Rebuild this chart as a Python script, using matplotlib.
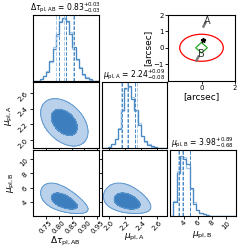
import numpy as np
import matplotlib
matplotlib.use("Agg")
import matplotlib.pyplot as plt
from matplotlib.patches import Ellipse, Polygon

# ---------------- data ----------------
tau_range = [0.70, 0.955]
muA_range = [1.90, 2.73]
muB_range = [2.10, 11.3]

tau_counts_dark = [0, 0, 0.03, 0.07, 0.14, 0.31, 0.50, 0.74, 0.93, 1.00,
                   0.96, 0.74, 0.53, 0.34, 0.20, 0.10, 0.04, 0.02, 0, 0]
tau_counts_light = [0, 0, 0.02, 0.08, 0.16, 0.30, 0.53, 0.72, 0.95, 0.98,
                    0.93, 0.77, 0.50, 0.33, 0.21, 0.09, 0.05, 0.01, 0, 0]
muA_counts_dark = [0, 0, 0.02, 0.07, 0.14, 0.30, 0.62, 0.97, 1.00, 0.80,
                   0.62, 0.38, 0.19, 0.11, 0.05, 0.03, 0.01, 0, 0, 0]
muA_counts_light = [0, 0, 0.01, 0.06, 0.15, 0.33, 0.60, 0.95, 0.98, 0.82,
                    0.60, 0.40, 0.20, 0.10, 0.06, 0.02, 0.01, 0, 0, 0]
muB_counts_dark = [0, 0.22, 0.71, 1.00, 0.95, 0.86, 0.47, 0.20, 0.085, 0.05,
                   0.03, 0.015, 0, 0, 0, 0, 0, 0, 0, 0]
muB_counts_light = [0, 0.25, 0.74, 0.97, 0.98, 0.80, 0.45, 0.22, 0.09, 0.04,
                    0.03, 0.01, 0, 0, 0, 0, 0, 0, 0, 0]

tau_q_dark = [0.80, 0.83, 0.86]
tau_q_light = [0.79, 0.82, 0.855]
muA_q_dark = [2.16, 2.24, 2.33]
muA_q_light = [2.15, 2.22, 2.35]
muB_q_dark = [3.30, 3.98, 4.87]
muB_q_light = [3.25, 3.75, 4.85]

titles = [r"$\Delta\tau_{\rm pl, AB}$ = $0.83^{+0.03}_{-0.03}$",
          r"$\mu_{\rm pl, A}$ = $2.24^{+0.09}_{-0.08}$",
          r"$\mu_{\rm pl, B}$ = $3.98^{+0.89}_{-0.68}$"]
labels = [r"$\Delta\tau_{\rm pl, AB}$", r"$\mu_{\rm pl, A}$", r"$\mu_{\rm pl, B}$"]

# 2D posterior summaries: (mean, sigma) for tau, muA, ln(muB); pair correlations
mean_tau, sig_tau = 0.822, 0.043
mean_muA, sig_muA = 2.225, 0.14
mean_lnB, sig_lnB = 1.38, 0.24
rho_tau_muA = -0.40
rho_tau_lnB = -0.55
rho_muA_lnB = -0.35
contour_mass = [0.5, 0.9]

tau_ticks = [0.75, 0.80, 0.85, 0.90, 0.95]
muA_ticks = [2.0, 2.2, 2.4, 2.6]
muB_ticks = [4, 6, 8, 10]

# source-plane inset
caustic_ellipse = [0.0, 0.0, 2.6, 1.65]     # x, y, width, height
caustic_diamond_x = [0.0, 0.35, 0.0, -0.35]
caustic_diamond_y = [0.32, 0.0, -0.32, 0.0]
source_star = [0.08, 0.45]
imgA_x = [0.10, 0.14, 0.18]
imgA_y = [1.32, 1.44, 1.56]
imgB_x = [-0.30, -0.24, -0.18]
imgB_y = [-0.72, -0.60, -0.48]
labelA = [0.32, 1.62]
labelB = [0.02, -0.41]

# ---------------- style ----------------
c_dark = "#4a88c2"
c_light = "#a6c8e8"
c_inner = "#3d7ebf"
c_outer = "#b9d1ea"
c_edge = "#5b97cf"

W = 249.0
fig = plt.figure(figsize=(2.49, 2.49), dpi=100)

col_left = [33.0, 101.5, 170.0]
row_top = [15.0, 82.5, 150.0]
size = 65.5

def make_ax(px_left, px_top, w=size, h=size):
    return fig.add_axes([px_left / W, 1 - (px_top + h) / W, w / W, h / W])

ranges = [tau_range, muA_range, muB_range]
ticks = [tau_ticks, muA_ticks, muB_ticks]
counts_d = [tau_counts_dark, muA_counts_dark, muB_counts_dark]
counts_l = [tau_counts_light, muA_counts_light, muB_counts_light]
q_d = [tau_q_dark, muA_q_dark, muB_q_dark]
q_l = [tau_q_light, muA_q_light, muB_q_light]
ymax_fac = [1.05, 1.06, 1.1]

fs_tick = 5
fs_lab = 6.5
fs_title = 5.5

for i in range(3):
    ax = make_ax(col_left[i], row_top[i])
    edges = np.linspace(ranges[i][0], ranges[i][1], len(counts_d[i]) + 1)
    ax.stairs(counts_l[i], edges, color=c_light, lw=0.9)
    ax.stairs(counts_d[i], edges, color=c_dark, lw=0.9)
    for v in q_l[i]:
        ax.axvline(v, color=c_light, ls="--", lw=0.7)
    for v in q_d[i]:
        ax.axvline(v, color=c_dark, ls="--", lw=0.7)
    ax.set_xlim(ranges[i])
    ax.set_ylim(0, ymax_fac[i] * max(counts_d[i]))
    ax.set_yticks([])
    ax.set_xticks(ticks[i])
    ax.tick_params(length=2, width=0.6, labelsize=fs_tick, pad=1)
    ax.set_title(titles[i], fontsize=fs_title, pad=2)
    if i < 2:
        ax.set_xticklabels([])
    else:
        for l in ax.get_xticklabels():
            l.set_rotation(45)
        ax.set_xlabel(labels[i], fontsize=fs_lab, labelpad=0)
    for s in ax.spines.values():
        s.set_linewidth(0.8)

r1, r2 = [np.sqrt(-2 * np.log(1 - p)) for p in contour_mass]

pairs = {
    (1, 0): (mean_tau, sig_tau, False, mean_muA, sig_muA, False, rho_tau_muA),
    (2, 0): (mean_tau, sig_tau, False, mean_lnB, sig_lnB, True, rho_tau_lnB),
    (2, 1): (mean_muA, sig_muA, False, mean_lnB, sig_lnB, True, rho_muA_lnB),
}
for (r, c), (mx, sx, lx, my, sy, ly, rho) in pairs.items():
    ax = make_ax(col_left[c], row_top[r])
    xs = np.linspace(ranges[c][0], ranges[c][1], 160)
    ys = np.linspace(ranges[r][0], ranges[r][1], 160)
    X, Y = np.meshgrid(xs, ys)
    U = (X - mx) / sx
    V = ((np.log(Y) if ly else Y) - my) / sy
    Q = (U ** 2 - 2 * rho * U * V + V ** 2) / (1 - rho ** 2)
    ax.contourf(X, Y, Q, levels=[-1, r2 ** 2], colors=[c_outer], antialiased=False)
    ax.contourf(X, Y, Q, levels=[-1, r1 ** 2], colors=[c_inner], antialiased=False)
    ax.contour(X, Y, Q, levels=[r1 ** 2, r2 ** 2], colors=[c_edge], linewidths=0.7)
    ax.set_xlim(ranges[c])
    ax.set_ylim(ranges[r])
    ax.set_xticks(ticks[c])
    ax.set_yticks(ticks[r])
    ax.tick_params(length=2, width=0.6, labelsize=fs_tick, pad=1)
    if r == 2:
        for l in ax.get_xticklabels():
            l.set_rotation(45)
        ax.set_xlabel(labels[c], fontsize=fs_lab, labelpad=0)
    else:
        ax.set_xticklabels([])
    if c == 0:
        for l in ax.get_yticklabels():
            l.set_rotation(45)
        ax.set_ylabel(labels[r], fontsize=fs_lab, labelpad=1)
    else:
        ax.set_yticklabels([])
    for s in ax.spines.values():
        s.set_linewidth(0.8)

# inset (source plane)
ax = make_ax(168.0, 15.0, w=67.0)
ax.add_patch(Ellipse((caustic_ellipse[0], caustic_ellipse[1]), caustic_ellipse[2],
                     caustic_ellipse[3], fill=False, ec="red", lw=0.9))
ax.add_patch(Polygon(np.column_stack([caustic_diamond_x, caustic_diamond_y]),
                     closed=True, fill=False, ec="#22aa22", lw=0.9))
ax.plot(imgA_x, imgA_y, "o", ms=1.5, color="#777777", mec="#555555", mew=0.3)
ax.plot(imgB_x, imgB_y, "o", ms=1.5, color="#777777", mec="#555555", mew=0.3)
ax.plot([source_star[0]], [source_star[1]], "*", ms=3.5, color="black")
ax.text(labelA[0], labelA[1], "A", fontsize=7, ha="center", va="center", color="#333333")
ax.text(labelB[0], labelB[1], "B", fontsize=7, ha="center", va="center", color="#333333")
ax.set_xlim(-2, 2)
ax.set_ylim(-2, 2)
ax.set_xticks([0, 2])
ax.set_yticks([-1, 0, 1, 2])
ax.tick_params(length=2, width=0.6, labelsize=fs_tick, pad=1)
ax.set_xlabel("[arcsec]", fontsize=6.5, labelpad=1)
ax.set_ylabel("[arcsec]", fontsize=6.5, labelpad=1)
for s in ax.spines.values():
    s.set_linewidth(0.8)

fig.savefig("out.png", dpi=100)
